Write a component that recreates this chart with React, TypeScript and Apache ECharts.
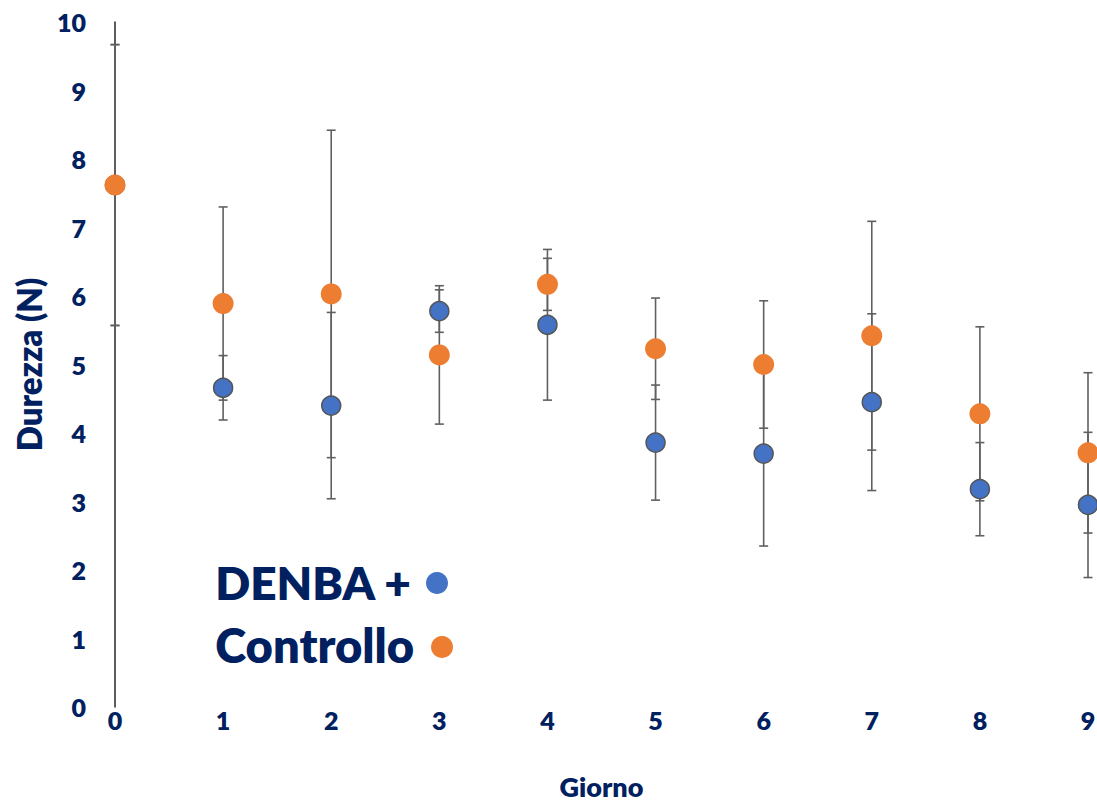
import React, { useEffect, useRef } from "react";
import * as echarts from "echarts";

const days = [0, 1, 2, 3, 4, 5, 6, 7, 8, 9];
const denbaMean = [7.62, 4.66, 4.40, 5.78, 5.58, 3.86, 3.70, 4.45, 3.18, 2.95];
const denbaErr = [2.05, 0.47, 1.36, 0.31, 1.10, 0.84, 1.35, 1.29, 0.68, 1.06];
const controlloMean = [7.62, 5.89, 6.03, 5.14, 6.17, 5.23, 5.00, 5.42, 4.28, 3.71];
const controlloErr = [2.05, 1.41, 2.39, 1.01, 0.38, 0.74, 0.93, 1.67, 1.27, 1.17];
const legendLabels = ["DENBA +", "Controllo"];

const NAVY = "#002060";
const BLUE = "#4472C4";
const ORANGE = "#ED7D31";
const FONT = "Lato, 'Open Sans', sans-serif";
const W = 800;

function errRender(params: any, api: any) {
  const x = api.value(0);
  const lo = api.value(1);
  const hi = api.value(2);
  const p1 = api.coord([x, hi]);
  const p2 = api.coord([x, lo]);
  const w = 4.5;
  const style = { stroke: "#606060", lineWidth: 1.6 };
  return {
    type: "group",
    children: [
      { type: "line", shape: { x1: p1[0], y1: p1[1], x2: p2[0], y2: p2[1] }, style },
      { type: "line", shape: { x1: p1[0] - w, y1: p1[1], x2: p1[0] + w, y2: p1[1] }, style },
      { type: "line", shape: { x1: p2[0] - w, y1: p2[1], x2: p2[0] + w, y2: p2[1] }, style },
    ],
  };
}

export default function App() {
  const ref = useRef<HTMLDivElement>(null);
  useEffect(() => {
    const chart = echarts.init(ref.current!, null, { renderer: "svg" });
    const errData = (m: number[], e: number[]) =>
      days.map((d, i) => [d, m[i] - e[i], m[i] + e[i]]);
    chart.setOption({
      animation: false,
      backgroundColor: "#ffffff",
      grid: { left: 115, right: 9, top: 22, bottom: 99, outerBoundsMode: "none", containLabel: false },
      xAxis: {
        type: "value",
        min: 0,
        max: 9,
        interval: 1,
        name: "Giorno",
        nameLocation: "middle",
        nameGap: 66,
        nameTextStyle: { color: NAVY, fontSize: 27, fontWeight: W, fontFamily: FONT },
        axisLine: { show: false },
        axisTick: { show: false },
        splitLine: { show: false },
        axisLabel: { color: NAVY, fontSize: 25, fontWeight: W, fontFamily: FONT, margin: 0 },
      },
      yAxis: {
        type: "value",
        min: 0,
        max: 10,
        interval: 1,
        name: "Durezza (N)",
        nameLocation: "middle",
        nameGap: 70,
        nameTextStyle: { color: NAVY, fontSize: 33, fontWeight: W, fontFamily: FONT },
        axisLine: { show: true, lineStyle: { color: "#262626", width: 1.5 } },
        axisTick: { show: false },
        splitLine: { show: false },
        axisLabel: { color: NAVY, fontSize: 25, fontWeight: W, fontFamily: FONT, margin: 29 },
      },
      series: [
        {
          type: "custom",
          name: "errD",
          renderItem: errRender,
          encode: { x: 0, y: [1, 2] },
          data: errData(denbaMean, denbaErr),
          clip: false,
          z: 1,
        },
        {
          type: "custom",
          name: "errC",
          renderItem: errRender,
          encode: { x: 0, y: [1, 2] },
          data: errData(controlloMean, controlloErr),
          clip: false,
          z: 1,
        },
        {
          type: "scatter",
          name: legendLabels[0],
          data: days.map((d, i) => [d, denbaMean[i]]),
          symbolSize: 19,
          itemStyle: { color: BLUE, borderColor: "#555555", borderWidth: 1.5, opacity: 1 },
          clip: false,
          z: 2,
        },
        {
          type: "scatter",
          name: legendLabels[1],
          data: days.map((d, i) => [d, controlloMean[i]]),
          symbolSize: 21,
          itemStyle: { color: ORANGE, opacity: 1 },
          clip: false,
          z: 3,
        },
      ],
      graphic: [
        {
          type: "text",
          style: {
            text: legendLabels[0], x: 411, y: 582, align: "right", verticalAlign: "middle",
            fill: NAVY, font: `${W} 46px ${FONT}`,
          },
        },
        {
          type: "text",
          style: {
            text: legendLabels[1], x: 414, y: 645, align: "right", verticalAlign: "middle",
            fill: NAVY, font: `${W} 47px ${FONT}`,
          },
        },
        { type: "circle", shape: { cx: 437, cy: 583, r: 11 }, style: { fill: BLUE } },
        { type: "circle", shape: { cx: 442, cy: 647, r: 11 }, style: { fill: ORANGE } },
      ],
    });
    return () => chart.dispose();
  }, []);
  return (
    <div
      ref={ref}
      style={{ position: "fixed", left: 0, top: 0, width: 1097, height: 806, background: "#fff" }}
    />
  );
}
